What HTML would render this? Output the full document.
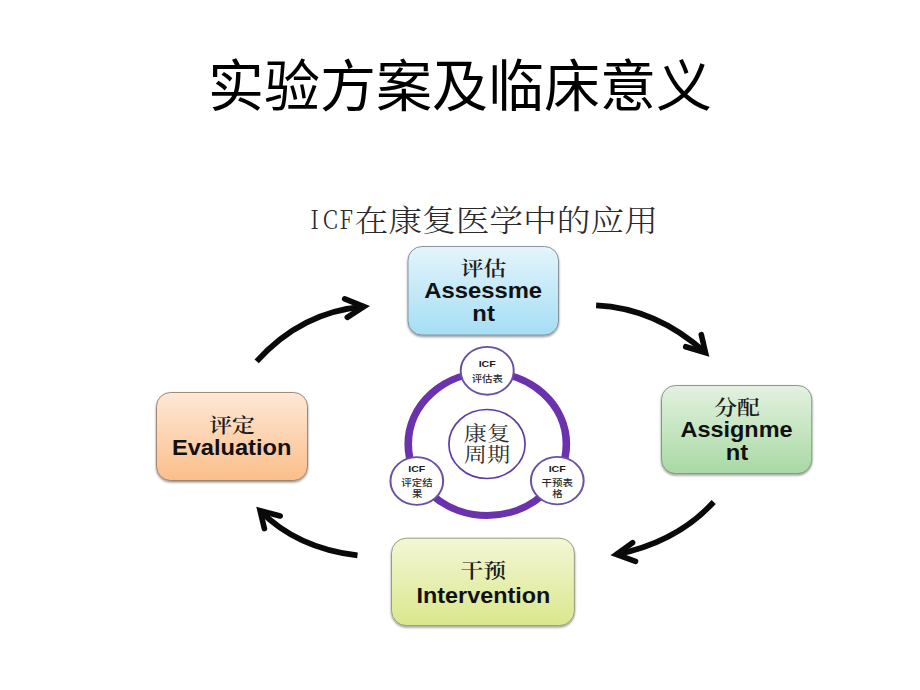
<!DOCTYPE html>
<html lang="zh-CN">
<head>
<meta charset="utf-8">
<title>实验方案及临床意义</title>
<style>
html,body{margin:0;padding:0;background:#fff;}
body{width:920px;height:690px;overflow:hidden;position:relative;}
svg{position:absolute;left:0;top:0;display:block;}
.title{font-family:"Liberation Sans","Noto Sans CJK SC",sans-serif;font-size:56px;fill:#000;}
.sub{font-family:"Liberation Serif","Noto Serif CJK SC",serif;font-size:30px;fill:#2a2a2a;font-weight:300;}
.sub2{font-family:"Noto Serif CJK SC","Liberation Serif",serif;font-size:25.5px;fill:#2a2a2a;font-weight:300;}
.cn{font-family:"Liberation Serif","Noto Serif CJK SC",serif;font-size:20.2px;fill:#1c1c1c;font-weight:600;}
.en{font-family:"Liberation Sans","Noto Sans CJK SC",sans-serif;font-size:21.4px;font-weight:700;fill:#111;}
.icf{font-family:"Liberation Sans","Noto Sans CJK SC",sans-serif;font-size:9.9px;font-weight:700;fill:#1a1a1a;}
.scn{font-family:"Liberation Sans","Noto Sans CJK SC",sans-serif;font-size:9px;font-weight:500;fill:#2a2a2a;}
.mid{font-family:"Liberation Serif","Noto Serif CJK SC",serif;font-size:20.5px;fill:#2e2e2e;font-weight:400;}
</style>
</head>
<body>
<svg width="920" height="690" viewBox="0 0 920 690">
<defs>
  <linearGradient id="gB" x1="0" y1="0" x2="0" y2="1"><stop offset="0" stop-color="#e4f4fc"/><stop offset="1" stop-color="#a5def4"/></linearGradient>
  <linearGradient id="gG" x1="0" y1="0" x2="0" y2="1"><stop offset="0" stop-color="#e3f2e0"/><stop offset="1" stop-color="#a8d9a3"/></linearGradient>
  <linearGradient id="gO" x1="0" y1="0" x2="0" y2="1"><stop offset="0" stop-color="#fee8d6"/><stop offset="1" stop-color="#fbbe8a"/></linearGradient>
  <linearGradient id="gY" x1="0" y1="0" x2="0" y2="1"><stop offset="0" stop-color="#f3f7d5"/><stop offset="1" stop-color="#dae78d"/></linearGradient>
  <filter id="sh" x="-10%" y="-10%" width="120%" height="130%"><feDropShadow dx="0" dy="1.4" stdDeviation="0.9" flood-color="#000" flood-opacity="0.45"/></filter>
</defs>

<!-- title -->
<text class="title" x="460" y="105.5" text-anchor="middle">实验方案及临床意义</text>
<!-- subtitle -->
<g transform="scale(0.86,1)"><text class="sub2" x="360.9 375.3 394.5" y="229.3">ICF</text></g>
<g transform="translate(354.5,231) scale(1.124,1)"><text class="sub" x="0" y="0">在康复医学中的应用</text></g>

<!-- boxes -->
<g filter="url(#sh)">
<rect x="408" y="246.5" width="150.5" height="88.5" rx="14" ry="14" fill="url(#gB)" stroke="#7f8b93" stroke-width="0.9"/>
<rect x="661.5" y="385.5" width="150.3" height="88.1" rx="14" ry="14" fill="url(#gG)" stroke="#838d80" stroke-width="0.9"/>
<rect x="156.5" y="392.5" width="151" height="88" rx="14" ry="14" fill="url(#gO)" stroke="#957f6c" stroke-width="0.9"/>
<rect x="391.5" y="538.2" width="182.9" height="87.4" rx="15" ry="15" fill="url(#gY)" stroke="#92977c" stroke-width="0.9"/>
</g>

<!-- box labels -->
<g transform="translate(483.5,275.5) scale(1.13,1)"><text class="cn" text-anchor="middle">评估</text></g>
<g transform="translate(483.2,297.8) scale(1.113,1)"><text class="en" text-anchor="middle">Assessme</text></g>
<g transform="translate(483.6,321.4) scale(1.113,1)"><text class="en" text-anchor="middle">nt</text></g>

<g transform="translate(737.0,414.8) scale(1.13,1)"><text class="cn" text-anchor="middle">分配</text></g>
<g transform="translate(736.5,437.0) scale(1.096,1)"><text class="en" text-anchor="middle">Assignme</text></g>
<g transform="translate(737.0,460.3) scale(1.113,1)"><text class="en" text-anchor="middle">nt</text></g>

<g transform="translate(232.0,433.1) scale(1.13,1)"><text class="cn" text-anchor="middle">评定</text></g>
<g transform="translate(231.6,454.5) scale(1.104,1)"><text class="en" text-anchor="middle">Evaluation</text></g>

<g transform="translate(483.3,577.6) scale(1.13,1)"><text class="cn" text-anchor="middle">干预</text></g>
<g transform="translate(483.4,602.9) scale(1.092,1)"><text class="en" text-anchor="middle">Intervention</text></g>

<!-- arrows -->
<g fill="none" stroke="#0a0a0a" stroke-width="5.7">
  <path d="M596.1 305.3 Q655.9 308 705.5 352.7"/>
  <path d="M256.65 361.4 Q301.4 311.7 363.9 306.6"/>
  <path d="M357.5 555.4 Q297.1 548.2 260.1 510.7"/>
  <path d="M713.7 502 Q677.4 541.9 616.4 554.5"/>
  <g stroke-linecap="round" stroke-linejoin="miter" stroke-miterlimit="10" stroke-width="5.6">
    <path d="M701.3 334.7 L705.5 352.7 L685.7 346.7"/>
    <path d="M344.7 298.9 L363.9 306.6 L347.3 317.3"/>
    <path d="M280.2 516 L260.1 510.7 L264.4 528.6"/>
    <path d="M632.6 542.7 L616.4 554.5 L635.5 561.3"/>
  </g>
</g>

<!-- center cycle -->
<g transform="translate(487.3,444) scale(1.106,1)"><circle cx="0" cy="0" r="71.5" fill="none" stroke="#6a32ad" stroke-width="6.9"/></g>
<g transform="translate(487,444) scale(1.106,1)"><circle cx="0" cy="0" r="34.45" fill="#fff" stroke="#5b3aa3" stroke-width="1.5"/></g>
<g transform="translate(487.2,370.8) scale(1.108,1)"><circle cx="0" cy="0" r="23.95" fill="#fff" stroke="#6a4fa3" stroke-width="1.8"/></g>
<g transform="translate(416.8,481) scale(1.108,1)"><circle cx="0" cy="0" r="23.8" fill="#fff" stroke="#6a4fa3" stroke-width="1.8"/></g>
<g transform="translate(557.3,480.6) scale(1.108,1)"><circle cx="0" cy="0" r="23.8" fill="#fff" stroke="#6a4fa3" stroke-width="1.8"/></g>

<g transform="translate(487,440.6) scale(1.13,1)"><text class="mid" text-anchor="middle">康复</text></g>
<g transform="translate(487,462.4) scale(1.13,1)"><text class="mid" text-anchor="middle">周期</text></g>

<g transform="translate(487.2,366.5) scale(1.07,1)"><text class="icf" text-anchor="middle">ICF</text></g>
<g transform="translate(487.3,381.8) scale(1.16,1)"><text class="scn" text-anchor="middle">评估表</text></g>

<g transform="translate(416.8,471.6) scale(1.07,1)"><text class="icf" text-anchor="middle">ICF</text></g>
<g transform="translate(417,486.3) scale(1.16,1)"><text class="scn" text-anchor="middle">评定结</text></g>
<g transform="translate(417.2,496.6) scale(1.16,1)"><text class="scn" text-anchor="middle">果</text></g>

<g transform="translate(557.2,471.6) scale(1.07,1)"><text class="icf" text-anchor="middle">ICF</text></g>
<g transform="translate(557.2,486.3) scale(1.16,1)"><text class="scn" text-anchor="middle">干预表</text></g>
<g transform="translate(557.4,496.6) scale(1.16,1)"><text class="scn" text-anchor="middle">格</text></g>
</svg>
</body>
</html>
